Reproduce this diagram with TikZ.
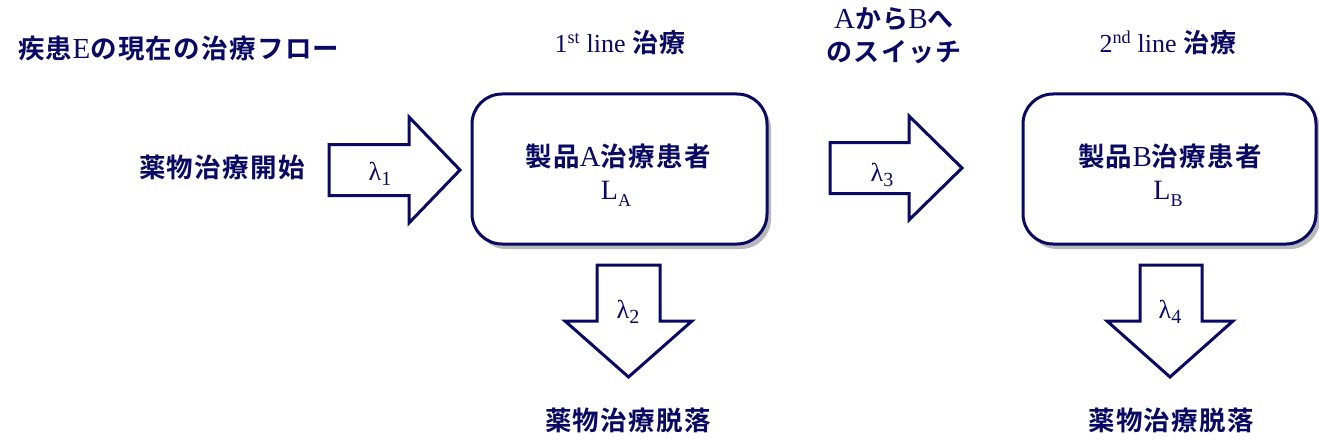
\documentclass[tikz,border=0pt]{standalone}
\usepackage{fontspec}
\setmainfont{Liberation Serif}
\newfontfamily\cjk{Noto Sans CJK JP Bold}[LetterSpace=5]
\usetikzlibrary{shadows}
\definecolor{navy}{RGB}{10,10,100}
\newcommand{\J}[1]{{\cjk #1}}
\newcommand{\Lt}[1]{{\fontsize{29}{29}\selectfont #1}}
\newcommand{\lam}[1]{{\fontsize{26}{26}\selectfont λ\raisebox{-5pt}{\fontsize{20}{20}\selectfont #1}}}
\newcommand{\Lsub}[1]{{\fontsize{28}{28}\selectfont L\raisebox{-7pt}{\fontsize{18}{18}\selectfont #1}}}
\begin{document}
\begin{tikzpicture}[x=1pt,y=-1pt,
  every node/.style={text=navy, inner sep=0pt},
  bigtxt/.style={font=\fontsize{26.5}{26.5}\selectfont},
  hdtxt/.style={font=\fontsize{26}{33}\selectfont, align=center},
  patbox/.style={draw=navy, line width=3pt, rounded corners=30pt, fill=white,
    drop shadow={shadow xshift=4pt, shadow yshift=-5pt, fill=black!50, opacity=0.55}},
  blockarrow/.style={draw=navy, line width=3pt, fill=white, line join=miter}]
\useasboundingbox (0,0) rectangle (1319,441);

% headings
\node[bigtxt, anchor=west] (title) at (18,48) {\J{疾患}\Lt{E}\J{の現在の治療フロー}};
\node[hdtxt] (h1) at (620,43) {1\textsuperscript{st} line \J{治療}};
\node[hdtxt] (h2) at (894,36) {\Lt{A}\J{から}\Lt{B}\J{へ}\\\J{のスイッチ}};
\node[hdtxt] (h3) at (1168,43) {2\textsuperscript{nd} line \J{治療}};

% boxes
\node[patbox, minimum width=295pt, minimum height=150pt] (boxA) at (619.5,169) {};
\node[patbox, minimum width=293pt, minimum height=150pt] (boxB) at (1169.5,169) {};
\node[bigtxt] (tA) at (618,156) {\J{製品}\Lt{A}\J{治療患者}};
\node (LA) at (616,194) {\Lsub{A}};
\node[bigtxt] (tB) at (1170,156) {\J{製品}\Lt{B}\J{治療患者}};
\node (LB) at (1168,194) {\Lsub{B}};

% left label
\node[bigtxt] (start) at (222,167) {\J{薬物治療開始}};

% block arrows
\draw[blockarrow] (329,144.5) -- (409,144.5) -- (409,117) -- (460,170) -- (409,223) -- (409,195.5) -- (329,195.5) -- cycle;
\node (l1) at (380,174) {\lam{1}};

\draw[blockarrow] (830,142.5) -- (909,142.5) -- (909,116) -- (962,168) -- (909,220) -- (909,193.5) -- (830,193.5) -- cycle;
\node (l3) at (882,175) {\lam{3}};

\draw[blockarrow] (597,265) -- (660,265) -- (660,321) -- (692,321) -- (628.5,377) -- (565,321) -- (597,321) -- cycle;
\node (l2) at (628,312) {\lam{2}};

\draw[blockarrow] (1140,265) -- (1202,265) -- (1202,321) -- (1233,321) -- (1170,377) -- (1107,321) -- (1140,321) -- cycle;
\node (l4) at (1170,312) {\lam{4}};

% bottom labels
\node[bigtxt] (out1) at (628,420) {\J{薬物治療脱落}};
\node[bigtxt] (out2) at (1171,420) {\J{薬物治療脱落}};
\end{tikzpicture}
\end{document}
